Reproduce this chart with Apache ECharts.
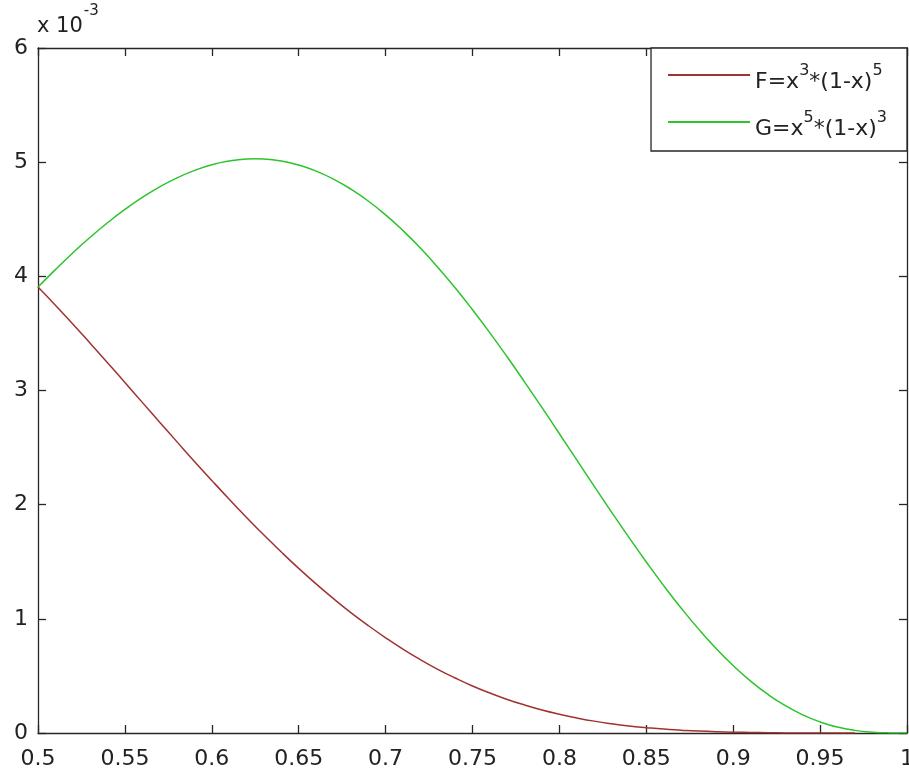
<!DOCTYPE html>
<html>
<head>
<meta charset="utf-8">
<script src="https://cdn.jsdelivr.net/npm/echarts@6/dist/echarts.min.js"></script>
<style>
  html, body { margin: 0; padding: 0; background: #fff; overflow: hidden; }
  #chart { width: 909px; height: 776px; }
</style>
</head>
<body>
<div id="chart"></div>
<script>
// x values (0.5 .. 1.0), y values in units of 1e-3
var xs = [0.50, 0.51, 0.52, 0.53, 0.54, 0.55, 0.56, 0.57, 0.58, 0.59,
          0.60, 0.61, 0.62, 0.625, 0.63, 0.64, 0.65, 0.66, 0.67, 0.68, 0.69,
          0.70, 0.71, 0.72, 0.73, 0.74, 0.75, 0.76, 0.77, 0.78, 0.79,
          0.80, 0.81, 0.82, 0.83, 0.84, 0.85, 0.86, 0.87, 0.88, 0.89,
          0.90, 0.91, 0.92, 0.93, 0.94, 0.95, 0.96, 0.97, 0.98, 0.99, 1.00];
var fVals = [3.906, 3.747, 3.583, 3.414, 3.243, 3.070, 2.896, 2.722, 2.550, 2.379,
             2.212, 2.048, 1.888, 1.810, 1.734, 1.585, 1.442, 1.306, 1.177, 1.055, 0.941,
             0.834, 0.734, 0.642, 0.558, 0.482, 0.412, 0.350, 0.294, 0.245, 0.201,
             0.164, 0.132, 0.104, 0.081, 0.062, 0.047, 0.034, 0.025, 0.017, 0.011,
             0.007, 0.005, 0.003, 0.001, 0.001, 0.000, 0.000, 0.000];
var gVals = [3.906, 4.059, 4.205, 4.342, 4.469, 4.586, 4.691, 4.784, 4.863, 4.927,
             4.977, 5.010, 5.027, 5.029, 5.027, 5.010, 4.975, 4.922, 4.852, 4.764, 4.660,
             4.538, 4.400, 4.248, 4.080, 3.900, 3.708, 3.505, 3.293, 3.074, 2.850,
             2.621, 2.392, 2.162, 1.935, 1.713, 1.498, 1.291, 1.095, 0.912, 0.743,
             0.591, 0.455, 0.338, 0.239, 0.159, 0.097, 0.052, 0.023, 0.007, 0.001, 0.000];
var xTicks = [0.5, 0.55, 0.6, 0.65, 0.7, 0.75, 0.8, 0.85, 0.9, 0.95, 1];
var yTicks = [0, 1, 2, 3, 4, 5, 6];

var fData = [], gData = [];
for (let i = 0; i < fVals.length; i++) fData.push([xs[i], fVals[i]]);
for (let i = 0; i < gVals.length; i++) gData.push([xs[i], gVals[i]]);

var axisColor = '#262626';
var textColor = '#222';
var font = 'DejaVu Sans';
var red = '#a03232';
var green = '#2bc42b';

function fmtX(v) {
  var r = Math.round(v * 100) / 100;
  return r === 1 ? '1' : String(r);
}

var lineStyleAxis = { color: axisColor, width: 1.3 };

let option = {
  animation: false,
  backgroundColor: '#fff',
  grid: { left: 38, right: 2, top: 48, bottom: 43, containLabel: false, outerBoundsMode: 'none' },
  graphic: [{
    type: 'text',
    left: 37,
    top: 4,
    style: {
      text: '{a|x 10}{s|-3}',
      rich: {
        a: { fontFamily: font, fontSize: 21, fill: textColor, padding: [12, 0, 0, 0] },
        s: { fontFamily: font, fontSize: 15, fill: textColor, verticalAlign: 'top', padding: [0, 0, 0, 1] }
      }
    }
  }],
  legend: {
    right: 2,
    top: 48,
    orient: 'vertical',
    align: 'left',
    backgroundColor: '#fff',
    borderColor: axisColor,
    borderWidth: 1.3,
    borderRadius: 0,
    padding: [15, 20, 11, 17],
    itemGap: 17,
    itemWidth: 82,
    itemHeight: 2,
    icon: 'rect',
    data: [
      { name: 'F', itemStyle: { color: red } },
      { name: 'G', itemStyle: { color: green } }
    ],
    formatter: function (name) {
      if (name === 'F') return '{t|F=x}{s|3}{t|*(1-x)}{s|5}';
      return '{t|G=x}{s|5}{t|*(1-x)}{s|3}';
    },
    textStyle: {
      fontFamily: font,
      fontSize: 22,
      color: textColor,
      padding: [6, 0, 0, 0],
      rich: {
        t: { fontFamily: font, fontSize: 22, color: textColor, padding: [8, 0, 0, 0] },
        s: { fontFamily: font, fontSize: 16, color: textColor, verticalAlign: 'top' }
      }
    }
  },
  xAxis: [{
    type: 'value',
    min: 0.5, max: 1, interval: 0.05,
    position: 'bottom',
    axisLine: { show: true, onZero: false, lineStyle: lineStyleAxis },
    axisTick: { show: true, inside: true, length: 8, lineStyle: lineStyleAxis },
    axisLabel: { color: textColor, fontFamily: font, fontSize: 22, margin: 15, formatter: fmtX },
    splitLine: { show: false }
  }, {
    type: 'value',
    min: 0.5, max: 1, interval: 0.05,
    position: 'top',
    axisLine: { show: true, onZero: false, lineStyle: lineStyleAxis },
    axisTick: { show: true, inside: true, length: 8, lineStyle: lineStyleAxis },
    axisLabel: { show: false },
    splitLine: { show: false }
  }],
  yAxis: [{
    type: 'value',
    min: 0, max: 6, interval: 1,
    position: 'left',
    axisLine: { show: true, onZero: false, lineStyle: lineStyleAxis },
    axisTick: { show: true, inside: true, length: 8, lineStyle: lineStyleAxis },
    axisLabel: { color: textColor, fontFamily: font, fontSize: 22, margin: 10 },
    splitLine: { show: false }
  }, {
    type: 'value',
    min: 0, max: 6, interval: 1,
    position: 'right',
    axisLine: { show: true, onZero: false, lineStyle: lineStyleAxis },
    axisTick: { show: true, inside: true, length: 8, lineStyle: lineStyleAxis },
    axisLabel: { show: false },
    splitLine: { show: false }
  }],
  series: [{
    name: 'G',
    type: 'line',
    data: gData,
    smooth: true,
    showSymbol: false,
    lineStyle: { color: green, width: 1.5 },
    itemStyle: { color: green },
    z: 2
  }, {
    name: 'F',
    type: 'line',
    data: fData,
    smooth: true,
    showSymbol: false,
    lineStyle: { color: red, width: 1.5 },
    itemStyle: { color: red },
    z: 3
  }]
};

let mychart = echarts.init(document.getElementById('chart'));
mychart.setOption(option);
</script>
</body>
</html>
